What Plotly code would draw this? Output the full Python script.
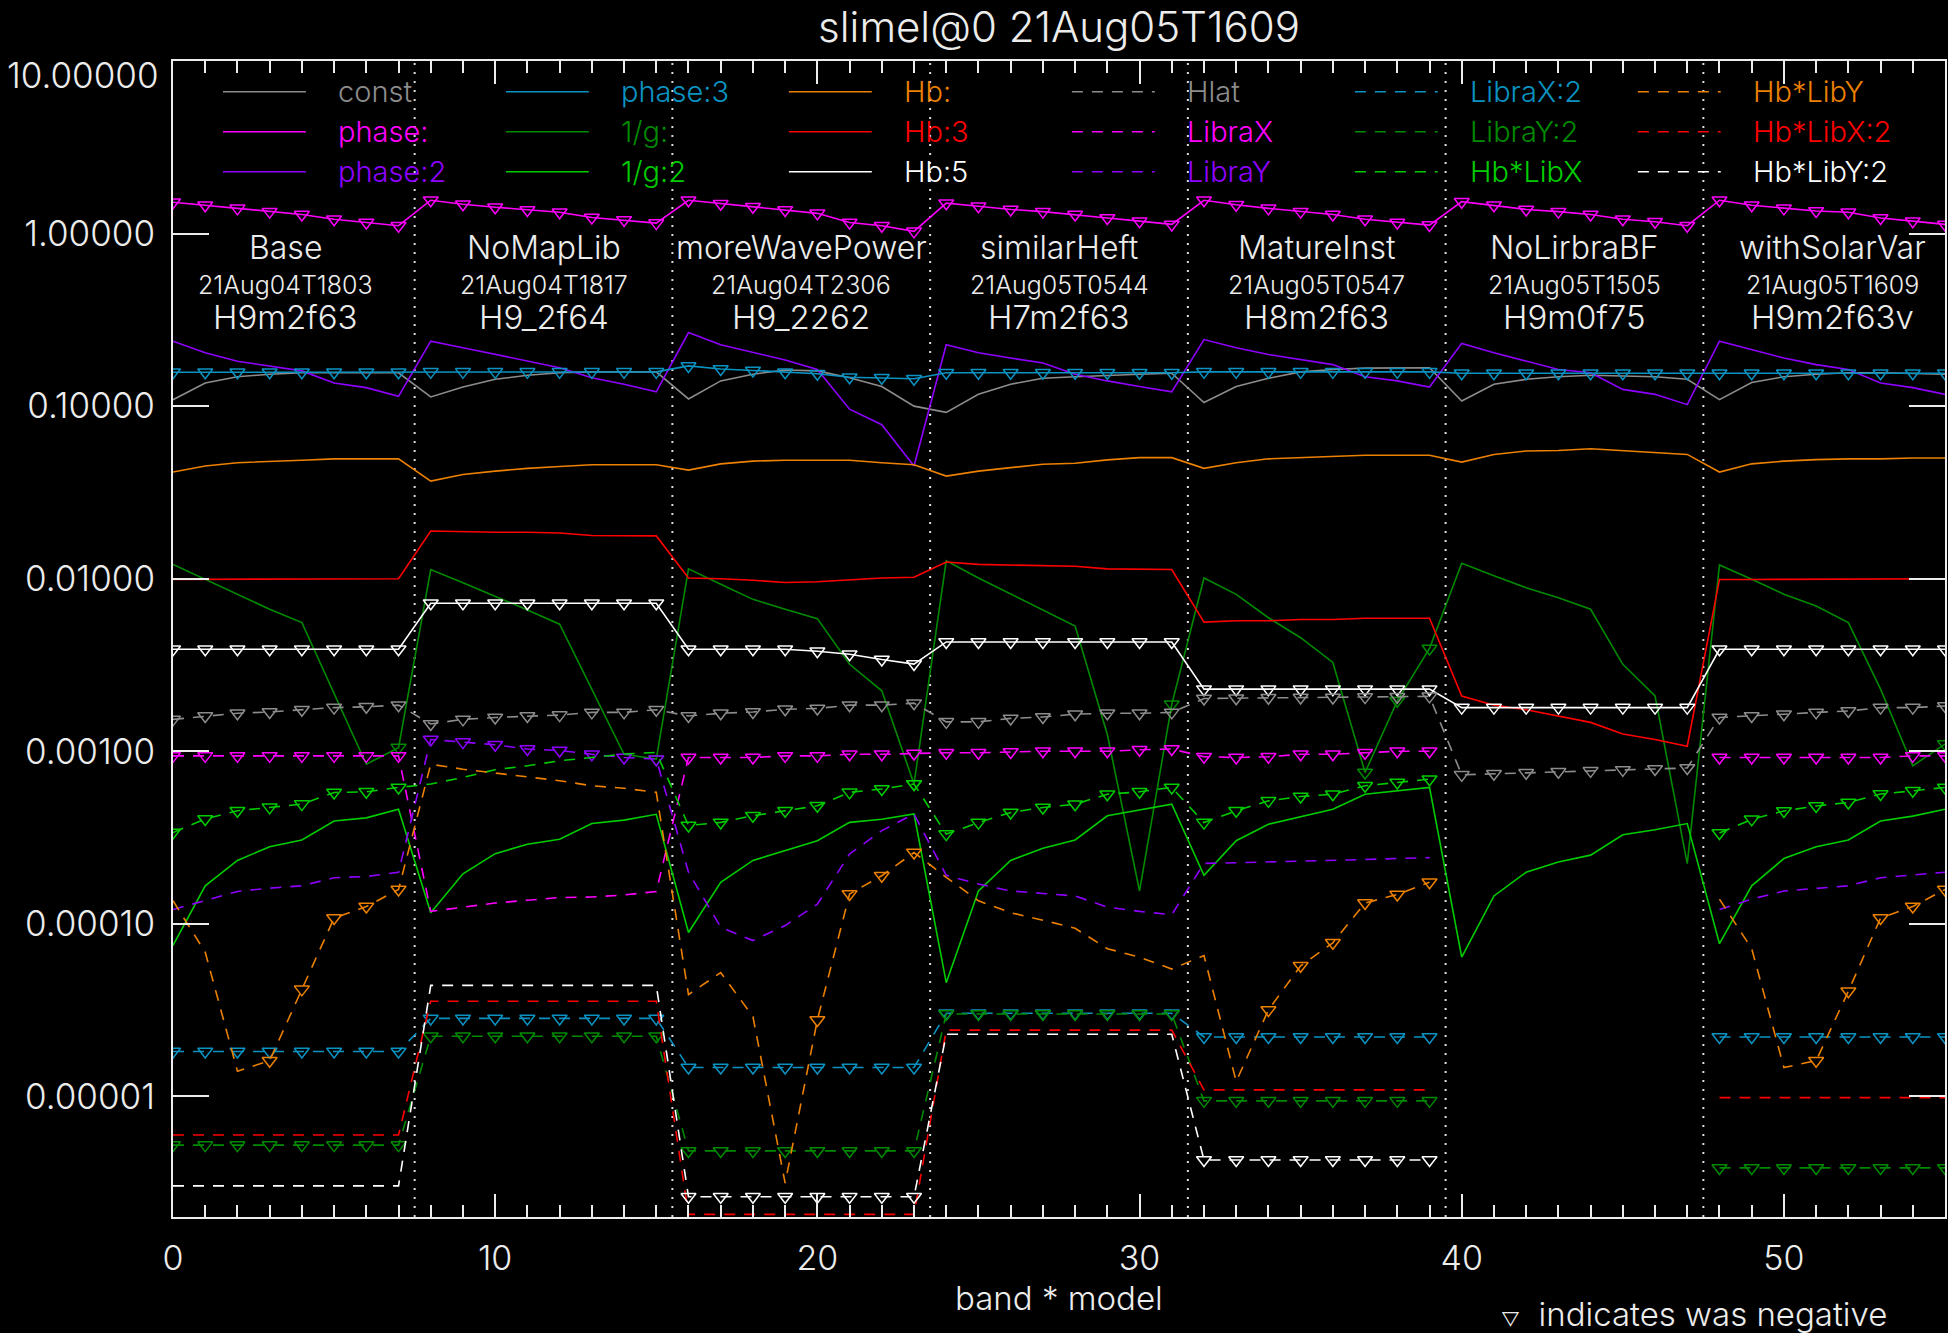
import math
import plotly.graph_objects as go

# ---------------------------------------------------------------- data
models = ["Base", "NoMapLib", "moreWavePower", "similarHeft",
          "MatureInst", "NoLirbraBF", "withSolarVar"]
run_dates = ["21Aug04T1803", "21Aug04T1817", "21Aug04T2306", "21Aug05T0544",
             "21Aug05T0547", "21Aug05T1505", "21Aug05T1609"]
run_codes = ["H9m2f63", "H9_2f64", "H9_2262", "H7m2f63",
             "H8m2f63", "H9m0f75", "H9m2f63v"]
bands_per_model = 8

y_tick_vals = [1e-5, 1e-4, 1e-3, 1e-2, 1e-1, 1.0, 10.0]
y_tick_text = ["0.00001", "0.00010", "0.00100", "0.01000", "0.10000", "1.00000", "10.00000"]
x_tick_vals = [0, 10, 20, 30, 40, 50]

# fitted coefficients, one entry per band*model; negative values are plotted
# as magnitudes and flagged with a triangle
const = [0.109, 0.136, 0.148, 0.153, 0.156, 0.156, 0.156, 0.156,
         0.113, 0.129, 0.143, 0.151, 0.156, 0.158, 0.158, 0.158,
         0.110, 0.140, 0.153, 0.162, 0.160, 0.146, 0.130, 0.100,
         0.092, 0.117, 0.134, 0.145, 0.148, 0.151, 0.153, 0.155,
         0.105, 0.130, 0.145, 0.158, 0.163, 0.166, 0.167, 0.167,
         0.107, 0.134, 0.143, 0.148, 0.151, 0.150, 0.148, 0.143,
         0.109, 0.137, 0.148, 0.153, 0.156, 0.156, 0.155, 0.153]
phase1 = [-1.52, -1.46, -1.40, -1.34, -1.29, -1.21, -1.16, -1.11,
          -1.56, -1.48, -1.42, -1.37, -1.33, -1.24, -1.20, -1.15,
          -1.56, -1.49, -1.43, -1.37, -1.31, -1.16, -1.11, -1.03,
          -1.50, -1.44, -1.38, -1.34, -1.29, -1.23, -1.18, -1.13,
          -1.56, -1.47, -1.40, -1.34, -1.29, -1.21, -1.16, -1.12,
          -1.53, -1.46, -1.38, -1.34, -1.29, -1.21, -1.17, -1.11,
          -1.56, -1.46, -1.40, -1.35, -1.33, -1.23, -1.18, -1.13]
phase2 = [0.238, 0.204, 0.182, 0.171, 0.160, 0.136, 0.128, 0.114,
          0.238, 0.218, 0.199, 0.182, 0.167, 0.146, 0.134, 0.121,
          0.267, 0.227, 0.204, 0.185, 0.163, 0.096, 0.078, 0.045,
          0.227, 0.204, 0.190, 0.178, 0.153, 0.140, 0.130, 0.121,
          0.243, 0.218, 0.199, 0.186, 0.174, 0.148, 0.140, 0.129,
          0.231, 0.204, 0.182, 0.163, 0.156, 0.125, 0.117, 0.102,
          0.238, 0.213, 0.190, 0.174, 0.163, 0.136, 0.128, 0.117]
phase3 = [-0.157, -0.157, -0.157, -0.157, -0.157, -0.157, -0.157, -0.157,
          -0.158, -0.158, -0.158, -0.158, -0.158, -0.158, -0.158, -0.158,
          -0.171, -0.164, -0.161, -0.157, -0.154, -0.147, -0.146, -0.144,
          -0.156, -0.156, -0.156, -0.156, -0.156, -0.156, -0.156, -0.156,
          -0.158, -0.158, -0.158, -0.158, -0.158, -0.158, -0.158, -0.158,
          -0.155, -0.155, -0.155, -0.155, -0.155, -0.155, -0.155, -0.155,
          -0.155, -0.155, -0.155, -0.155, -0.155, -0.155, -0.155, -0.155]
inv_g1 = [0.0121, 0.00993, 0.00813, 0.00665, 0.00557, 0.00217, 0.000841, -0.00105,
          0.0113, 0.00948, 0.00794, 0.00659, 0.00545, 0.00229, 0.00096, -0.00090,
          0.0114, 0.00929, 0.00759, 0.00665, 0.00587, 0.00319, 0.00224, -0.000646,
          0.0127, 0.0101, 0.00813, 0.00659, 0.00532, 0.00125, 0.000155, -0.00187,
          0.0101, 0.00811, 0.00594, 0.00455, 0.00327, -0.000753, -0.00196, -0.00394,
          0.0123, 0.0104, 0.00887, 0.00776, 0.00665, 0.00319, 0.00209, 0.000223,
          0.0120, 0.00993, 0.00813, 0.00695, 0.00557, 0.00229, 0.000824, -0.00110]
inv_g2 = [7.5e-5, 1.66e-4, 2.33e-4, 2.80e-4, 3.06e-4, 3.94e-4, 4.11e-4, 4.61e-4,
          1.16e-4, 1.95e-4, 2.55e-4, 2.89e-4, 3.09e-4, 3.81e-4, 3.99e-4, 4.31e-4,
          8.9e-5, 1.74e-4, 2.33e-4, 2.67e-4, 3.03e-4, 3.87e-4, 4.04e-4, 4.33e-4,
          4.56e-5, 1.55e-4, 2.33e-4, 2.74e-4, 3.06e-4, 4.23e-4, 4.57e-4, 4.93e-4,
          1.91e-4, 3.03e-4, 3.78e-4, 4.17e-4, 4.61e-4, 5.64e-4, 5.90e-4, 6.17e-4,
          6.41e-5, 1.45e-4, 1.99e-4, 2.28e-4, 2.50e-4, 3.28e-4, 3.51e-4, 3.81e-4,
          7.67e-5, 1.66e-4, 2.39e-4, 2.80e-4, 3.06e-4, 3.94e-4, 4.21e-4, 4.61e-4]
hb1 = [0.0415, 0.0450, 0.0470, 0.0480, 0.0486, 0.0495, 0.0495, 0.0495,
       0.0368, 0.0402, 0.0420, 0.0436, 0.0447, 0.0457, 0.0457, 0.0457,
       0.0426, 0.0463, 0.0480, 0.0486, 0.0486, 0.0486, 0.0470, 0.0457,
       0.0393, 0.0420, 0.0440, 0.0460, 0.0467, 0.0488, 0.0503, 0.0503,
       0.0436, 0.0470, 0.0495, 0.0503, 0.0510, 0.0519, 0.0519, 0.0519,
       0.0474, 0.0525, 0.0550, 0.0553, 0.0566, 0.0553, 0.0540, 0.0525,
       0.0415, 0.0463, 0.0480, 0.0490, 0.0495, 0.0495, 0.0500, 0.0500]
hb3 = [0.0099, 0.0099, 0.0099, 0.0100, 0.0100, 0.0100, 0.0100, 0.0100,
       0.0189, 0.0187, 0.0186, 0.0186, 0.0184, 0.0178, 0.0177, 0.0177,
       0.0101, 0.0100, 0.0098, 0.0095, 0.0096, 0.0098, 0.0101, 0.0102,
       0.0125, 0.0121, 0.0120, 0.0119, 0.0118, 0.0114, 0.0113, 0.0113,
       0.0056, 0.0057, 0.0057, 0.0058, 0.0058, 0.0059, 0.0059, 0.0059,
       0.00209, 0.00185, 0.00174, 0.00160, 0.00147, 0.00126, 0.00117, 0.00107,
       0.0099, 0.0099, 0.0099, 0.0099, 0.0100, 0.0100, 0.0100, 0.0100]
hb5 = [-0.0039, -0.0039, -0.0039, -0.0039, -0.0039, -0.0039, -0.0039, -0.0039,
       -0.0072, -0.0072, -0.0072, -0.0072, -0.0072, -0.0072, -0.0072, -0.0072,
       -0.0039, -0.0039, -0.0039, -0.0039, -0.0038, -0.00365, -0.0034, -0.0032,
       -0.0043, -0.0043, -0.0043, -0.0043, -0.0043, -0.0043, -0.0043, -0.0043,
       -0.00229, -0.00229, -0.00229, -0.00229, -0.00229, -0.00229, -0.00229, -0.00229,
       -0.00179, -0.00179, -0.00179, -0.00179, -0.00179, -0.00179, -0.00179, -0.00179,
       -0.0039, -0.0039, -0.0039, -0.0039, -0.0039, -0.0039, -0.0039, -0.0039]
hlat = [-1.53e-3, -1.60e-3, -1.66e-3, -1.69e-3, -1.74e-3, -1.79e-3, -1.81e-3, -1.85e-3,
        -1.44e-3, -1.53e-3, -1.57e-3, -1.60e-3, -1.62e-3, -1.68e-3, -1.68e-3, -1.74e-3,
        -1.60e-3, -1.66e-3, -1.69e-3, -1.75e-3, -1.77e-3, -1.85e-3, -1.85e-3, -1.90e-3,
        -1.48e-3, -1.48e-3, -1.55e-3, -1.58e-3, -1.64e-3, -1.66e-3, -1.66e-3, -1.68e-3,
        -2.02e-3, -2.03e-3, -2.04e-3, -2.05e-3, -2.05e-3, -2.06e-3, -2.07e-3, -2.08e-3,
        -7.3e-4, -7.4e-4, -7.5e-4, -7.6e-4, -7.7e-4, -7.8e-4, -7.9e-4, -8.0e-4,
        -1.57e-3, -1.60e-3, -1.64e-3, -1.68e-3, -1.71e-3, -1.79e-3, -1.79e-3, -1.83e-3]
libra_x = [-9.4e-4, -9.4e-4, -9.4e-4, -9.4e-4, -9.4e-4, -9.4e-4, -9.4e-4, -9.4e-4,
           1.18e-4, 1.25e-4, 1.32e-4, 1.37e-4, 1.42e-4, 1.43e-4, 1.47e-4, 1.54e-4,
           -9.2e-4, -9.2e-4, -9.2e-4, -9.4e-4, -9.4e-4, -9.6e-4, -9.6e-4, -9.7e-4,
           -9.8e-4, -9.8e-4, -9.9e-4, -1.0e-3, -1.0e-3, -1.0e-3, -1.02e-3, -1.03e-3,
           -9.3e-4, -9.2e-4, -9.3e-4, -9.6e-4, -9.6e-4, -9.8e-4, -1.0e-3, -1.0e-3,
           None, None, None, None, None, None, None, None,
           -9.2e-4, -9.2e-4, -9.2e-4, -9.2e-4, -9.2e-4, -9.2e-4, -9.4e-4, -9.4e-4]
libra_y = [1.21e-4, 1.37e-4, 1.54e-4, 1.61e-4, 1.66e-4, 1.85e-4, 1.88e-4, 1.99e-4,
           -1.17e-3, -1.13e-3, -1.09e-3, -1.03e-3, -1.01e-3, -9.6e-4, -9.2e-4, -9.0e-4,
           1.99e-4, 9.55e-5, 8.0e-5, 9.77e-5, 1.30e-4, 2.54e-4, 3.47e-4, 4.33e-4,
           1.91e-4, 1.70e-4, 1.55e-4, 1.50e-4, 1.45e-4, 1.25e-4, 1.18e-4, 1.13e-4,
           2.24e-4, 2.26e-4, 2.29e-4, 2.32e-4, 2.33e-4, 2.36e-4, 2.39e-4, 2.42e-4,
           None, None, None, None, None, None, None, None,
           1.21e-4, 1.39e-4, 1.55e-4, 1.61e-4, 1.66e-4, 1.85e-4, 1.91e-4, 1.99e-4]
libra_x2 = [-1.82e-5] * 8 + [-2.83e-5] * 8 + [-1.47e-5] * 8 + [-3.03e-5] * 8 \
    + [-2.21e-5] * 8 + [None] * 8 + [-2.21e-5] * 8
libra_y2 = [-5.22e-6] * 8 + [-2.23e-5] * 8 + [-4.83e-6] * 8 + [-3.0e-5] * 8 \
    + [-9.42e-6] * 8 + [None] * 8 + [-3.85e-6] * 8
hb_libx = [-3.38e-4, -4.05e-4, -4.52e-4, -4.73e-4, -4.94e-4, -5.77e-4, -5.82e-4, -6.17e-4,
           6.46e-4, 7.05e-4, 7.82e-4, 8.24e-4, 8.81e-4, 9.20e-4, 9.64e-4, 9.84e-4,
           -3.71e-4, -3.87e-4, -4.23e-4, -4.52e-4, -4.83e-4, -5.78e-4, -6.04e-4, -6.46e-4,
           -3.31e-4, -3.86e-4, -4.42e-4, -4.72e-4, -4.93e-4, -5.64e-4, -5.82e-4, -6.17e-4,
           -3.86e-4, -4.52e-4, -5.16e-4, -5.47e-4, -5.64e-4, -6.31e-4, -6.59e-4, -6.89e-4,
           None, None, None, None, None, None, None, None,
           -3.36e-4, -4.03e-4, -4.51e-4, -4.82e-4, -5.05e-4, -5.65e-4, -5.90e-4, -6.17e-4]
hb_liby = [1.36e-4, 6.85e-5, 1.40e-5, -1.61e-5, -4.17e-5, -1.08e-4, -1.26e-4, -1.58e-4,
           8.41e-4, 7.87e-4, 7.48e-4, 7.11e-4, 6.75e-4, 6.31e-4, 6.10e-4, 5.78e-4,
           3.89e-5, 5.22e-5, 2.90e-5, 3.14e-6, -2.77e-5, -1.49e-4, -1.90e-4, -2.59e-4,
           1.86e-4, 1.36e-4, 1.16e-4, 1.05e-4, 9.42e-5, 7.18e-5, 6.41e-5, 5.47e-5,
           6.55e-5, 1.22e-5, -3.17e-5, -5.71e-5, -7.76e-5, -1.32e-4, -1.48e-4, -1.74e-4,
           None, None, None, None, None, None, None, None,
           1.39e-4, 7.18e-5, 1.47e-5, -1.61e-5, -4.07e-5, -1.08e-4, -1.26e-4, -1.58e-4]
hb_libx2 = [5.97e-6] * 8 + [3.56e-5] * 8 + [2.07e-6] * 8 + [2.42e-5] * 8 \
    + [1.09e-5] * 8 + [None] * 8 + [9.84e-6] * 8
hb_liby2 = [3.03e-6] * 8 + [4.40e-5] * 8 + [-2.62e-6] * 8 + [2.29e-5] * 8 \
    + [-4.28e-6] * 8 + [None] * 8 + [None] * 8

series_names = ["const", "phase:", "phase:2", "phase:3", "1/g:", "1/g:2",
                "Hb:", "Hb:3", "Hb:5", "Hlat", "LibraX", "LibraY",
                "LibraX:2", "LibraY:2", "Hb*LibX", "Hb*LibY", "Hb*LibX:2", "Hb*LibY:2"]
series_values = [const, phase1, phase2, phase3, inv_g1, inv_g2,
                 hb1, hb3, hb5, hlat, libra_x, libra_y,
                 libra_x2, libra_y2, hb_libx, hb_liby, hb_libx2, hb_liby2]

# ---------------------------------------------------------------- style
palette = ["#8c8c8c", "#ff00ff", "#8f00ff", "#0a93c2", "#008a00",
           "#00cc00", "#ec8000", "#ff0000", "#ffffff"]
FG = "#ececec"
FONT = "Inter, DejaVu Sans, sans-serif"
WEIGHT = 300
DASH = "11px,9px"

W, H = 1948, 1333
ML, MR, MT, MB = 173, 1, 61, 116


def paper_x(px):
    return (px - ML) / (W - ML - MR)


def paper_y(py):
    return (H - MB - py) / (H - MT - MB)


def txt(size, color=FG):
    return dict(family=FONT, size=size, color=color, weight=WEIGHT)


n_points = len(models) * bands_per_model
xs = list(range(n_points))

fig = go.Figure()

for idx, (name, vals) in enumerate(zip(series_names, series_values)):
    color = palette[idx % 9]
    dashed = idx >= 9
    mags = [abs(v) if v is not None else None for v in vals]
    fig.add_trace(go.Scatter(
        x=xs, y=mags, mode="lines", name=name,
        line=dict(color=color, width=1.6, dash=DASH if dashed else "solid"),
        showlegend=False, hoverinfo="skip"))
    neg_x = [x for x, v in zip(xs, vals) if v is not None and v < 0]
    neg_y = [abs(v) for v in vals if v is not None and v < 0]
    if neg_x:
        fig.add_trace(go.Scatter(
            x=neg_x, y=neg_y, mode="markers", name=name + " (neg)",
            marker=dict(symbol="triangle-down-open", size=13, color=color,
                        line=dict(color=color, width=1.5)),
            showlegend=False, hoverinfo="skip"))

shapes = []
annotations = []

# dotted separators between models
for m in range(1, len(models)):
    xb = m * bands_per_model - 0.5
    shapes.append(dict(type="line", xref="x", yref="paper", x0=xb, x1=xb, y0=0, y1=1,
                       line=dict(color="#dcdcdc", width=2, dash="2px,7px"), layer="below"))

# model captions
for m, (nm, dt, cd) in enumerate(zip(models, run_dates, run_codes)):
    xc = m * bands_per_model + (bands_per_model - 1) / 2
    annotations.append(dict(x=xc, xref="x", y=paper_y(247), yref="paper", text=nm,
                            showarrow=False, xanchor="center", yanchor="middle",
                            font=txt(32)))
    annotations.append(dict(x=xc, xref="x", y=paper_y(285), yref="paper", text=dt,
                            showarrow=False, xanchor="center", yanchor="middle",
                            font=txt(25)))
    annotations.append(dict(x=xc, xref="x", y=paper_y(317), yref="paper", text=cd,
                            showarrow=False, xanchor="center", yanchor="middle",
                            font=txt(33)))

# legend block: 6 columns x 3 rows
for idx, name in enumerate(series_names):
    col, row = idx // 3, idx % 3
    color = palette[idx % 9]
    x0 = 223 + 283.3 * col
    yy = 91.7 + 40 * row
    shapes.append(dict(type="line", xref="paper", yref="paper",
                       x0=paper_x(x0), x1=paper_x(x0 + 83), y0=paper_y(yy), y1=paper_y(yy),
                       line=dict(color=color, width=1.6, dash=DASH if idx >= 9 else "solid")))
    annotations.append(dict(x=paper_x(x0 + 113), xref="paper", y=paper_y(yy), yref="paper",
                            text=name, showarrow=False, xanchor="left", yanchor="middle",
                            font=txt(29, color)))

# top decade label sits just inside the frame
annotations.append(dict(x=paper_x(161), xref="paper", y=paper_y(75), yref="paper",
                        text=y_tick_text[-1], showarrow=False, xanchor="right",
                        yanchor="middle", font=txt(35)))

annotations.append(dict(x=0.5, xref="paper", y=paper_y(1298), yref="paper",
                        text="band * model", showarrow=False, xanchor="center",
                        yanchor="middle", font=txt(33)))
annotations.append(dict(x=paper_x(1891), xref="paper", y=paper_y(1314), yref="paper",
                        text="<span style='font-size:19px'>\u25bd</span>  indicates was negative",
                        showarrow=False, xanchor="right", yanchor="middle",
                        font=txt(33)))

fig.update_layout(
    width=W, height=H,
    margin=dict(l=ML, r=MR, t=MT, b=MB, pad=0),
    paper_bgcolor="black", plot_bgcolor="black",
    title=dict(text="slimel@0 21Aug05T1609", x=0.5, xref="paper", xanchor="center",
               y=1 - 27 / H, yref="container", yanchor="middle",
               font=txt(42)),
    font=txt(20),
    shapes=shapes, annotations=annotations,
    xaxis=dict(range=[0, n_points - 1], tickvals=x_tick_vals,
               ticks="inside", ticklen=23, tickwidth=2, tickcolor=FG,
               minor=dict(dtick=1, ticks="inside", ticklen=12, tickwidth=2,
                          tickcolor=FG, showgrid=False),
               showline=True, linecolor=FG, linewidth=2, mirror="ticks",
               showgrid=False, zeroline=False, ticklabelstandoff=10,
               tickfont=txt(34)),
    yaxis=dict(type="log", range=[math.log10(2e-6), 1.0],
               tickvals=y_tick_vals, ticktext=y_tick_text[:-1] + [""],
               ticks="inside", ticklen=36, tickwidth=2, tickcolor=FG,
               showline=True, linecolor=FG, linewidth=2, mirror="ticks",
               showgrid=False, zeroline=False, ticklabelstandoff=9,
               tickfont=txt(35)),
)

fig.write_html("out.html")
